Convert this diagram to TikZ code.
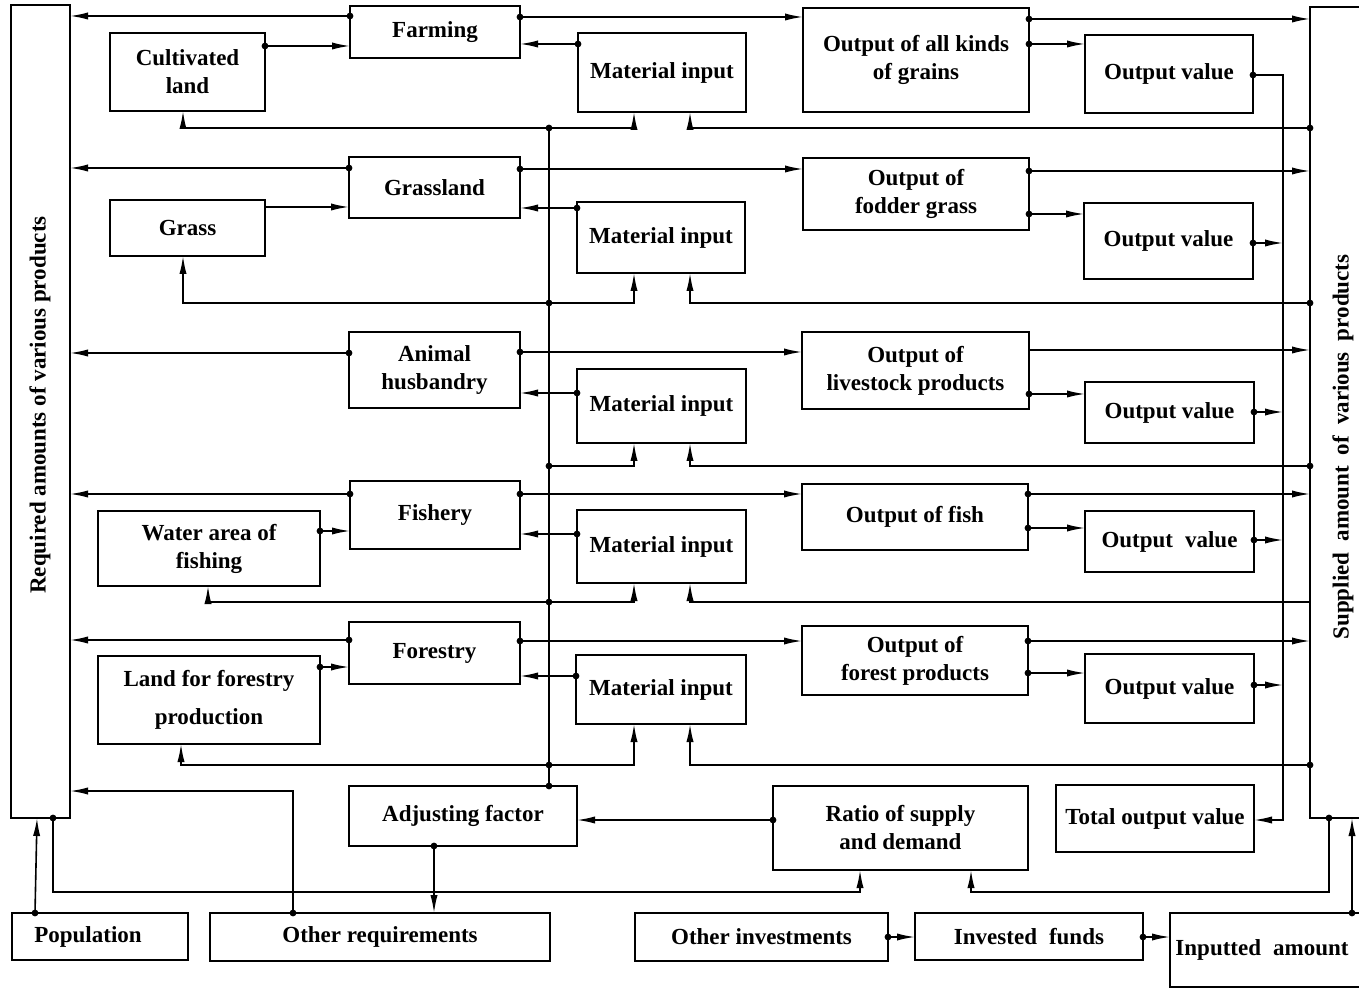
\documentclass[tikz,border=0pt]{standalone}
\usepackage{fontspec}
\setmainfont{Liberation Serif}
\usetikzlibrary{arrows.meta,calc}
\newcommand\bx[6]{\node[box,minimum width={(#4-#2)*0.5pt},minimum height={(#5-#3)*0.5pt}] (#1) at ({(#2+#4)/2},{(#3+#5)/2}) {#6};}
\begin{document}
\begin{tikzpicture}[x=0.5pt,y=-0.5pt,
  box/.style={draw,line width=0.85pt,inner sep=0pt,outer sep=0pt,align=center,font=\bfseries\fontsize{11.5}{14}\selectfont},
  lbl/.style={inner sep=0pt,align=center,font=\bfseries\fontsize{11.5}{14}\selectfont},
  ln/.style={line width=0.8pt},
  ar/.style={line width=0.8pt,-{Latex[length=9pt,width=3.6pt]}},
  dot/.style={circle,fill,inner sep=0pt,minimum size=3.4pt}]
\useasboundingbox (0,0) rectangle (1359,988);
\clip (0,0) rectangle (1359,988);
% big side boxes
\bx{req}{11}{5}{70}{818}{}
\node[lbl,rotate=90] at (40,405) {Required amounts of various products};
\bx{sup}{1310}{7}{1390}{818}{}
\node[lbl,rotate=90] at (1343,447) {Supplied\hspace{5.5pt}amount\hspace{5.5pt}of\hspace{5.5pt}various\hspace{5.5pt}products};
% row 1
\bx{farm}{350}{6}{520}{58}{Farming}
\bx{cult}{110}{33}{265}{111}{Cultivated\\land}
\bx{mat1}{578}{33}{746}{112}{Material input}
\bx{grain}{803}{8}{1029}{112}{Output of all kinds\\of grains}
\bx{ov1}{1085}{35}{1253}{113}{Output value}
% row 2
\bx{gland}{349}{157}{520}{218}{Grassland}
\bx{grass}{110}{200}{265}{256}{Grass}
\bx{mat2}{577}{202}{745}{273}{Material input}
\bx{fodd}{803}{158}{1029}{230}{Output of\\fodder grass}
\bx{ov2}{1084}{203}{1253}{279}{Output value}
% row 3
\bx{anim}{349}{332}{520}{408}{Animal\\husbandry}
\bx{mat3}{577}{369}{746}{443}{Material input}
\bx{live}{802}{332}{1029}{409}{Output of\\livestock products}
\bx{ov3}{1085}{382}{1254}{443}{Output value}
% row 4
\bx{fish}{350}{481}{520}{549}{Fishery}
\bx{water}{98}{511}{320}{586}{Water area of\\fishing}
\bx{mat4}{577}{510}{746}{583}{Material input}
\bx{ofish}{802}{484}{1028}{550}{Output of fish}
\bx{ov4}{1085}{511}{1254}{572}{Output\hspace{6pt}value}
% row 5
\bx{fore}{349}{622}{520}{684}{Forestry}
\bx{lfor}{98}{656}{320}{744}{Land for forestry\\[5pt]production}
\bx{mat5}{576}{655}{746}{724}{Material input}
\bx{ofor}{802}{626}{1028}{695}{Output of\\forest products}
\bx{ov5}{1085}{654}{1254}{723}{Output value}
% bottom
\bx{adj}{349}{786}{577}{846}{Adjusting factor}
\bx{ratio}{773}{786}{1028}{870}{Ratio of supply\\and demand}
\bx{tov}{1056}{785}{1254}{852}{Total output value}
\bx{pop}{12}{913}{188}{960}{Population\hspace{12pt}}
\bx{oreq}{210}{913}{550}{961}{Other requirements}
\bx{oinv}{635}{913}{888}{961}{Other investments}
\bx{fund}{915}{913}{1143}{960}{Invested\hspace{6pt}funds}
\bx{inp}{1170}{913}{1390}{987}{}
\node[lbl] at (1262,950) {Inputted\hspace{6pt}amount};

% sector -> required
\foreach \s/\y in {farm/16,gland/168,anim/353,fish/494,fore/640}{
  \draw[ar] (\s.west |- 0,\y) node[dot]{} -- (req.east |- 0,\y);}
% land -> sector
\draw[ar] (cult.east |- 0,46) node[dot]{} -- (farm.west |- 0,46);
\draw[ar] (grass.east |- 0,207) -- (gland.west |- 0,207);
\draw[ar] (water.east |- 0,531) node[dot]{} -- (fish.west |- 0,531);
\draw[ar] (lfor.east |- 0,667) node[dot]{} -- (fore.west |- 0,667);
% material input -> sector
\draw[ar] (mat1.west |- 0,44) node[dot]{} -- (farm.east |- 0,44);
\draw[ar] (mat2.west |- 0,208) node[dot]{} -- (gland.east |- 0,208);
\draw[ar] (mat3.west |- 0,393) node[dot]{} -- (anim.east |- 0,393);
\draw[ar] (mat4.west |- 0,534) node[dot]{} -- (fish.east |- 0,534);
\draw[ar] (mat5.west |- 0,676) node[dot]{} -- (fore.east |- 0,676);
% sector -> output
\draw[ar] (farm.east |- 0,17) node[dot]{} -- (grain.west |- 0,17);
\draw[ar] (gland.east |- 0,169) node[dot]{} -- (fodd.west |- 0,169);
\draw[ar] (anim.east |- 0,352) node[dot]{} -- (live.west |- 0,352);
\draw[ar] (fish.east |- 0,494) node[dot]{} -- (ofish.west |- 0,494);
\draw[ar] (fore.east |- 0,641) node[dot]{} -- (ofor.west |- 0,641);
% output -> supplied
\draw[ar] (grain.east |- 0,19) node[dot]{} -- (sup.west |- 0,19);
\draw[ar] (fodd.east |- 0,171) node[dot]{} -- (sup.west |- 0,171);
\draw[ar] (live.east |- 0,350) -- (sup.west |- 0,350);
\draw[ar] (ofish.east |- 0,494) node[dot]{} -- (sup.west |- 0,494);
\draw[ar] (ofor.east |- 0,641) node[dot]{} -- (sup.west |- 0,641);
% output -> output value
\draw[ar] (grain.east |- 0,44) node[dot]{} -- (ov1.west |- 0,44);
\draw[ar] (fodd.east |- 0,214) node[dot]{} -- (ov2.west |- 0,214);
\draw[ar] (live.east |- 0,394) node[dot]{} -- (ov3.west |- 0,394);
\draw[ar] (ofish.east |- 0,528) node[dot]{} -- (ov4.west |- 0,528);
\draw[ar] (ofor.east |- 0,673) node[dot]{} -- (ov5.west |- 0,673);
% output value bus -> total output value
\coordinate (vb) at (1283,820);
\draw[ar] (ov1.east |- 0,75) node[dot]{} -| (vb) -- (tov.east |- vb);
\draw[ar] (ov2.east |- 0,243) node[dot]{} -- (vb |- 0,243);
\draw[ar] (ov3.east |- 0,412) node[dot]{} -- (vb |- 0,412);
\draw[ar] (ov4.east |- 0,540) node[dot]{} -- (vb |- 0,540);
\draw[ar] (ov5.east |- 0,685) node[dot]{} -- (vb |- 0,685);
% supplied -> material input (feedback)
\draw[ar] (sup.west |- 0,128) node[dot]{} -| (mat1.south -| 690,0);
\draw[ar] (sup.west |- 0,303) node[dot]{} -| (mat2.south -| 690,0);
\draw[ar] (sup.west |- 0,466) node[dot]{} -| (mat3.south -| 690,0);
\draw[ar] (sup.west |- 0,602) -| (mat4.south -| 690,0);
\draw[ar] (sup.west |- 0,765) node[dot]{} -| (mat5.south -| 690,0);
% adjusting factor bus
\coordinate (ab) at (549,786);
\draw[ln] (ab) node[dot]{} -- (ab |- 0,128);
\foreach \y in {128,303,466,602,765}{\node[dot] at (ab |- 0,\y) {};}
\draw[ar] (ab |- 0,128) -| (mat1.south -| 634,0);
\draw[ar] (ab |- 0,128) -| (cult.south -| 183,0);
\draw[ar] (ab |- 0,303) -| (mat2.south -| 634,0);
\draw[ar] (ab |- 0,303) -| (grass.south -| 183,0);
\draw[ar] (ab |- 0,466) -| (mat3.south -| 634,0);
\draw[ar] (ab |- 0,602) -| (mat4.south -| 634,0);
\draw[ar] (ab |- 0,602) -| (water.south -| 208,0);
\draw[ar] (ab |- 0,765) -| (mat5.south -| 634,0);
\draw[ar] (ab |- 0,765) -| (lfor.south -| 181,0);
% bottom connections
\draw[ar] (ratio.west |- 0,820) node[dot]{} -- (adj.east |- 0,820);
\draw[ar] (adj.south -| 434,0) node[dot]{} -- (oreq.north -| 434,0);
\draw[ar] (oreq.north -| 293,0) node[dot]{} |- (req.east |- 0,791);
\draw[ar] (pop.north -| 35,0) node[dot]{} -- (req.south -| 37,0);
\draw[ar] (req.south -| 53,0) node[dot]{} |- (860,892) -- (ratio.south -| 860,0);
\draw[ar] (sup.south -| 1329,0) node[dot]{} |- (971,892) -- (ratio.south -| 971,0);
\draw[ar] (oinv.east |- 0,937) node[dot]{} -- (fund.west |- 0,937);
\draw[ar] (fund.east |- 0,937) node[dot]{} -- (inp.west |- 0,937);
\draw[ar] (inp.north -| 1352,0) node[dot]{} -- (sup.south -| 1352,0);
\end{tikzpicture}
\end{document}
